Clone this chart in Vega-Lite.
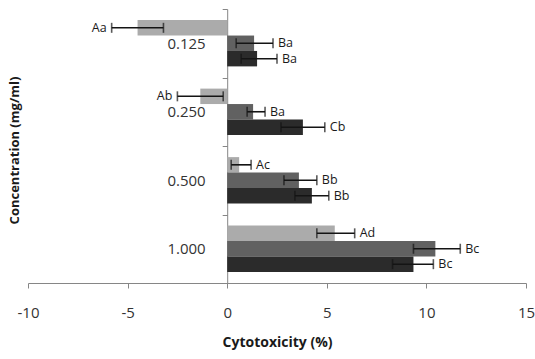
{
  "$schema": "https://vega.github.io/schema/vega-lite/v6.json",
  "autosize": {"type": "none"},
  "width": 498,
  "height": 274,
  "padding": {"left": 28, "top": 9, "right": 9, "bottom": 76},
  "background": "white",
  "config": {
    "view": {"stroke": null},
    "font": "Open Sans",
    "axis": {"grid": false, "domainColor": "#868686", "tickColor": "#868686", "labelColor": "#333333", "titleColor": "#1a1a1a", "labelFont": "Open Sans", "titleFont": "Open Sans"}
  },
  "data": {
    "values": [
      {"conc": "0.125", "series": "S1", "value": -4.5, "lo": -5.8, "hi": -3.2, "label": "Aa"},
      {"conc": "0.125", "series": "S2", "value": 1.35, "lo": 0.45, "hi": 2.3, "label": "Ba"},
      {"conc": "0.125", "series": "S3", "value": 1.5, "lo": 0.7, "hi": 2.5, "label": "Ba"},
      {"conc": "0.250", "series": "S1", "value": -1.35, "lo": -2.5, "hi": -0.2, "label": "Ab"},
      {"conc": "0.250", "series": "S2", "value": 1.3, "lo": 1.0, "hi": 1.9, "label": "Ba"},
      {"conc": "0.250", "series": "S3", "value": 3.8, "lo": 2.7, "hi": 4.9, "label": "Cb"},
      {"conc": "0.500", "series": "S1", "value": 0.6, "lo": 0.2, "hi": 1.2, "label": "Ac"},
      {"conc": "0.500", "series": "S2", "value": 3.6, "lo": 2.85, "hi": 4.5, "label": "Bb"},
      {"conc": "0.500", "series": "S3", "value": 4.25, "lo": 3.4, "hi": 5.1, "label": "Bb"},
      {"conc": "1.000", "series": "S1", "value": 5.4, "lo": 4.5, "hi": 6.4, "label": "Ad"},
      {"conc": "1.000", "series": "S2", "value": 10.45, "lo": 9.35, "hi": 11.7, "label": "Bc"},
      {"conc": "1.000", "series": "S3", "value": 9.35, "lo": 8.3, "hi": 10.35, "label": "Bc"}
    ]
  },
  "encoding": {
    "y": {
      "field": "conc", "type": "nominal",
      "sort": ["0.125", "0.250", "0.500", "1.000"],
      "scale": {"paddingInner": 0, "paddingOuter": 0},
      "axis": {
        "title": "Concentration (mg/ml)",
        "titleFontSize": 13, "titleFontWeight": "bold",
        "titleX": -213, "titleY": 141, "titleAngle": -90, "titleAlign": "center", "titleBaseline": "middle",
        "offset": -199.2,
        "tickBand": "extent", "tickSize": 5,
        "labelFontSize": 15, "labelPadding": 17
      }
    },
    "yOffset": {
      "field": "series", "type": "nominal",
      "sort": ["S1", "S2", "S3"],
      "scale": {"paddingInner": 0, "paddingOuter": 0.72}
    }
  },
  "layer": [
    {
      "mark": {"type": "bar"},
      "encoding": {
        "x": {
          "field": "value", "type": "quantitative",
          "scale": {"domain": [-10, 15], "nice": false},
          "axis": {
            "title": "Cytotoxicity (%)", "titleFontSize": 14, "titleFontWeight": "bold", "titlePadding": 15,
            "values": [-10, -5, 0, 5, 10, 15], "tickSize": 5, "labelFontSize": 15, "labelPadding": 17, "labelFlush": false,
            "labelExpr": "toString(datum.value)"
          }
        },
        "color": {
          "field": "series", "type": "nominal",
          "scale": {"domain": ["S1", "S2", "S3"], "range": ["#ababab", "#616161", "#2b2b2b"]},
          "legend": null
        }
      }
    },
    {
      "mark": {"type": "rule", "color": "#141414", "strokeWidth": 1.6},
      "encoding": {
        "x": {"field": "lo", "type": "quantitative"},
        "x2": {"field": "hi"}
      }
    },
    {
      "mark": {"type": "tick", "color": "#141414", "thickness": 1.6, "size": 10},
      "encoding": {"x": {"field": "lo", "type": "quantitative"}}
    },
    {
      "mark": {"type": "tick", "color": "#141414", "thickness": 1.6, "size": 10},
      "encoding": {"x": {"field": "hi", "type": "quantitative"}}
    },
    {
      "transform": [{"filter": "datum.value >= 0"}],
      "mark": {"type": "text", "align": "left", "baseline": "middle", "dx": 5, "fontSize": 12.5, "color": "#1a1a1a"},
      "encoding": {
        "x": {"field": "hi", "type": "quantitative"},
        "text": {"field": "label"}
      }
    },
    {
      "transform": [{"filter": "datum.value < 0"}],
      "mark": {"type": "text", "align": "right", "baseline": "middle", "dx": -5, "fontSize": 12.5, "color": "#1a1a1a"},
      "encoding": {
        "x": {"field": "lo", "type": "quantitative"},
        "text": {"field": "label"}
      }
    }
  ]
}
